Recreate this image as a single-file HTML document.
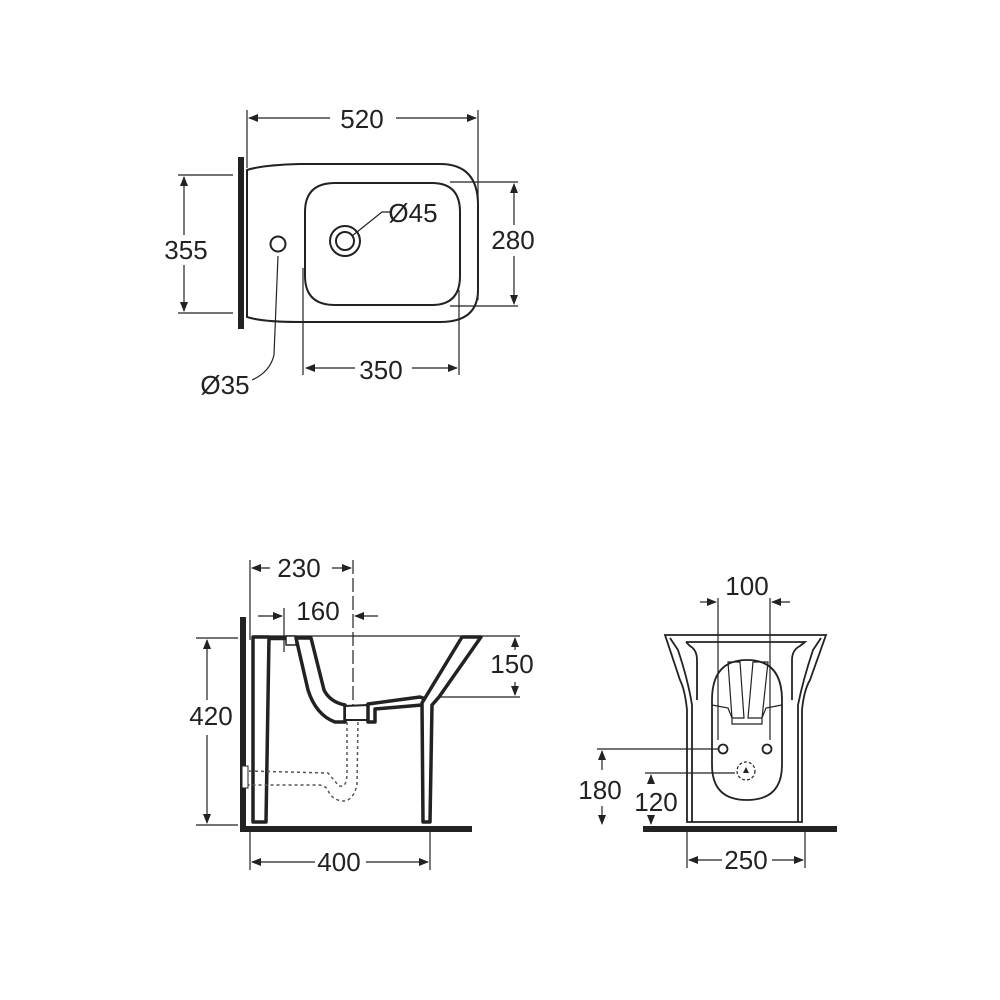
<!DOCTYPE html>
<html><head><meta charset="utf-8"><style>
html,body{margin:0;padding:0;background:#fff}
svg{display:block}
text{font-family:"Liberation Sans",sans-serif;font-size:26px;fill:#222;text-anchor:middle}
</style></head><body>
<svg width="1000" height="1000" viewBox="0 0 1000 1000">
<defs>
<marker id="a" markerWidth="10" markerHeight="8" refX="9" refY="4" orient="auto" markerUnits="userSpaceOnUse"><path d="M0,0 L10,4 L0,8 Z" fill="#222"/></marker>
</defs>
<g stroke="#222" fill="none" stroke-width="1.2">
<line x1="247" y1="110" x2="247" y2="168"/>
<line x1="478" y1="110" x2="478" y2="300"/>
<line x1="330" y1="118" x2="249" y2="118" marker-end="url(#a)"/>
<line x1="396" y1="118" x2="476" y2="118" marker-end="url(#a)"/>
<line x1="178" y1="175" x2="233" y2="175"/>
<line x1="178" y1="313" x2="233" y2="313"/>
<line x1="184" y1="235" x2="184" y2="177" marker-end="url(#a)"/>
<line x1="184" y1="265" x2="184" y2="311" marker-end="url(#a)"/>
<line x1="450" y1="182" x2="518" y2="182"/>
<line x1="450" y1="306" x2="518" y2="306"/>
<line x1="514" y1="225" x2="514" y2="184" marker-end="url(#a)"/>
<line x1="514" y1="256" x2="514" y2="304" marker-end="url(#a)"/>
<line x1="303" y1="268" x2="303" y2="375"/>
<line x1="459" y1="290" x2="459" y2="375"/>
<line x1="355" y1="368" x2="306" y2="368" marker-end="url(#a)"/>
<line x1="412" y1="368" x2="457" y2="368" marker-end="url(#a)"/>
<polyline points="352,236 382,212 392,212"/>
<path d="M278,256 L274,355 Q270,372 252,380"/>
</g>
<rect x="238" y="157" width="6" height="172" fill="#222"/>
<g stroke="#222" fill="none" stroke-width="2">
<path d="M247,170 Q262,165 300,164 L440,164 Q478,164 478,205 L478,290 Q478,322 440,322 L300,322 Q262,322 247,317 Z"/>
<path d="M305,212 Q305,183 335,183 L432,183 Q460,183 460,212 L460,276 Q460,305 432,305 L335,305 Q305,305 305,276 Z"/>
<circle cx="345" cy="241" r="15"/>
<circle cx="345" cy="241" r="9"/>
<circle cx="278" cy="244" r="7.5"/>
</g>
<text x="362" y="128">520</text>
<text x="186" y="259">355</text>
<text x="513" y="249">280</text>
<text x="381" y="379">350</text>
<text x="413" y="222">Ø45</text>
<text x="225" y="394">Ø35</text>

<g stroke="#222" fill="none" stroke-width="1.2">
<line x1="250" y1="560" x2="250" y2="640"/>
<line x1="284" y1="608" x2="284" y2="652"/>
<line x1="353" y1="560" x2="353" y2="722" stroke-dasharray="14,4"/>
<line x1="270" y1="568" x2="252" y2="568" marker-end="url(#a)"/>
<line x1="332" y1="568" x2="351" y2="568" marker-end="url(#a)"/>
<line x1="258" y1="616" x2="282" y2="616" marker-end="url(#a)"/>
<line x1="378" y1="616" x2="355" y2="616" marker-end="url(#a)"/>
<line x1="196" y1="638" x2="238" y2="638"/>
<line x1="196" y1="825" x2="238" y2="825"/>
<line x1="207" y1="700" x2="207" y2="640" marker-end="url(#a)"/>
<line x1="207" y1="735" x2="207" y2="823" marker-end="url(#a)"/>
<line x1="252" y1="636" x2="520" y2="636"/>
<line x1="418" y1="697" x2="520" y2="697"/>
<line x1="515" y1="650" x2="515" y2="638" marker-end="url(#a)"/>
<line x1="515" y1="682" x2="515" y2="695" marker-end="url(#a)"/>
<line x1="250" y1="830" x2="250" y2="870"/>
<line x1="430" y1="830" x2="430" y2="870"/>
<line x1="315" y1="862" x2="252" y2="862" marker-end="url(#a)"/>
<line x1="366" y1="862" x2="428" y2="862" marker-end="url(#a)"/>
</g>
<rect x="240" y="617" width="6" height="215" fill="#222"/>
<rect x="240" y="826" width="232" height="6" fill="#222"/>
<g stroke="#222" fill="#fff" stroke-width="3.5" stroke-linejoin="round">
<path d="M253,637 L269,637 L266,822 L253,822 Z"/>
<line x1="268" y1="638" x2="296" y2="638" stroke-width="4.5"/>
<rect x="286" y="636" width="10" height="9" stroke-width="1.5"/>
<path d="M296,638 L311,638 L324,690 Q330,702 345,705 L345,722 L335,722 Q316,715 308,690 Z"/>
<path d="M345,706 L368,705 L368,720 L345,720 Z" stroke-width="2"/>
<path d="M368,704 L420,697 L428,700 L422,705 L375,709 L375,722 L368,722 Z"/>
<path d="M462,637 L481,637 L439,697 L432,705 L430,822 L423,822 L422,703 Z"/>
</g>
<g stroke="#555" fill="none" stroke-width="1.5" stroke-dasharray="3,3">
<path d="M347,722 L347,775 Q346,790 338,785 Q334,780 328,773 L248,771"/>
<path d="M358,722 L357,785 Q352,805 338,800 Q330,797 328,790 Q325,785 318,785 L248,785"/>
</g>
<rect x="242" y="766" width="6" height="22" fill="#fff" stroke="#222" stroke-width="1"/>
<text x="299" y="577">230</text>
<text x="318" y="620">160</text>
<text x="211" y="725">420</text>
<text x="512" y="673">150</text>
<text x="339" y="871">400</text>

<g stroke="#222" fill="none" stroke-width="1.2">
<line x1="718" y1="598" x2="718" y2="740"/>
<line x1="770" y1="598" x2="770" y2="740"/>
<line x1="700" y1="602" x2="716" y2="602" marker-end="url(#a)"/>
<line x1="790" y1="602" x2="772" y2="602" marker-end="url(#a)"/>
<line x1="597" y1="749" x2="718" y2="749"/>
<line x1="645" y1="773" x2="735" y2="773"/>
<line x1="602" y1="770" x2="602" y2="751" marker-end="url(#a)"/>
<line x1="602" y1="806" x2="602" y2="824" marker-end="url(#a)"/>
<line x1="651" y1="783" x2="651" y2="775" marker-end="url(#a)"/>
<line x1="651" y1="815" x2="651" y2="824" marker-end="url(#a)"/>
<line x1="687" y1="830" x2="687" y2="868"/>
<line x1="805" y1="830" x2="805" y2="868"/>
<line x1="722" y1="860" x2="689" y2="860" marker-end="url(#a)"/>
<line x1="772" y1="860" x2="803" y2="860" marker-end="url(#a)"/>
</g>
<rect x="643" y="826" width="194" height="6" fill="#222"/>
<g stroke="#222" fill="none" stroke-width="1.8">
<path d="M665,635 L826,635 L810,680 Q804,690 802,710 L802,822 L687,822 L687,710 Q685,690 680,680 Z"/>
<path d="M670,638 L678,650 Q688,680 692,705 L692,822"/>
<path d="M821,638 L813,650 Q803,680 798,705 L798,822"/>
<path d="M686,642 L805,642 L800,646 Q792,650 792,660 L792,700"/>
<path d="M686,642 L690,646 Q697,650 697,660 L697,700"/>
<path d="M712,700 Q712,660 747,660 Q782,660 782,700 L782,765 Q782,800 747,800 Q712,800 712,765 Z"/>
<path d="M728,662 L740,662 L744,718 L732,718 Z" stroke-width="1.2"/>
<path d="M753,662 L768,662 L762,718 L748,718 Z" stroke-width="1.2"/>
<path d="M712,705 L728,708 L732,718 L732,724 L762,724 L762,718 L766,708 L782,705" stroke-width="1.2"/>
<circle cx="723" cy="749" r="4.5"/>
<circle cx="767" cy="749" r="4.5"/>
<circle cx="746" cy="771" r="9" stroke-dasharray="3,2" stroke-width="1.2"/>
</g>
<path d="M743,773 L746,767 L749,773 Z" fill="#222"/>
<text x="747" y="595">100</text>
<text x="600" y="799">180</text>
<text x="656" y="811">120</text>
<text x="746" y="869">250</text>
</svg>
</body></html>
